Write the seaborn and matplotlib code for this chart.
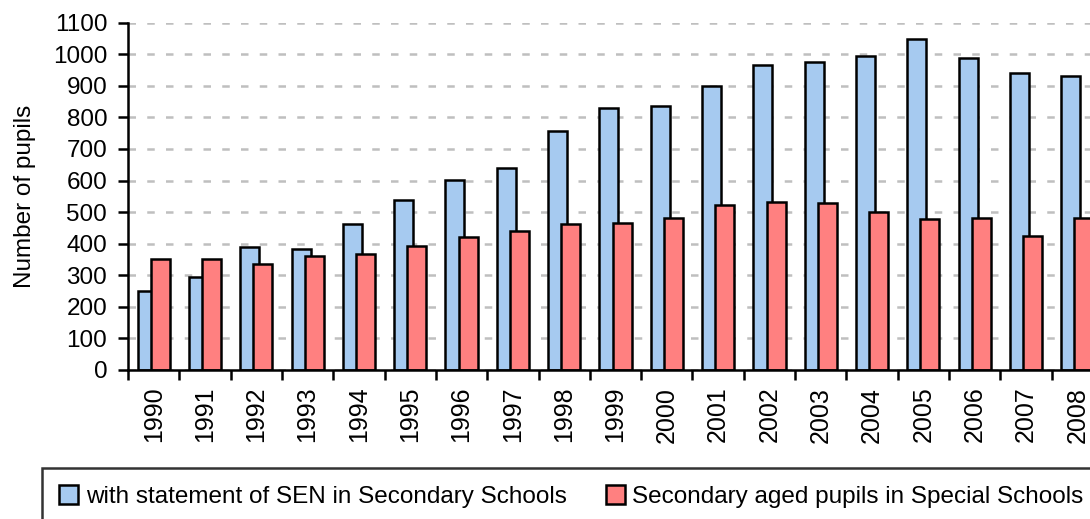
import numpy as np
import pandas as pd
import matplotlib.pyplot as plt
import seaborn as sns
from matplotlib.patches import Patch

# values
years = ["1990", "1991", "1992", "1993", "1994", "1995", "1996", "1997", "1998", "1999",
         "2000", "2001", "2002", "2003", "2004", "2005", "2006", "2007", "2008"]
sen_secondary = [250, 293, 391, 383, 464, 537, 601, 641, 756, 829,
                 837, 900, 966, 977, 993, 1048, 987, 942, 931]
special_schools = [352, 352, 337, 361, 367, 392, 421, 439, 461, 467,
                   481, 522, 533, 529, 500, 478, 483, 426, 481]
series_names = ["with statement of SEN in Secondary Schools",
                "Secondary aged pupils in Special Schools"]
colors = ["#A6CAF0", "#FF8080"]

df = pd.DataFrame({
    "year": years * 2,
    "pupils": sen_secondary + special_schools,
    "series": [series_names[0]] * len(years) + [series_names[1]] * len(years),
})

sns.set_style("ticks")
plt.rcParams["font.family"] = ["Liberation Sans", "DejaVu Sans"]
plt.rcParams.update({
    "text.color": "black",
    "axes.labelcolor": "black",
    "xtick.color": "black",
    "ytick.color": "black",
})

W, H = 1090, 519
fig = plt.figure(figsize=(W / 100, H / 100), dpi=100)
# axes runs past the right edge, as in the cropped original
ax = fig.add_axes([128 / W, (H - 370) / H, 975 / W, (370 - 22.7) / H])

sns.barplot(data=df, x="year", y="pupils", hue="series", hue_order=series_names,
            palette=colors, saturation=1, width=0.74, edgecolor="black",
            linewidth=1.8, errorbar=None, legend=False, ax=ax)

# Excel style overlap: pull the two bars of each year together
shift = 0.057
for bar in ax.containers[0]:
    bar.set_x(bar.get_x() + shift)
for bar in ax.containers[1]:
    bar.set_x(bar.get_x() - shift)

ax.set_xlim(-0.5, len(years) - 0.5)
ax.set_ylim(0, 1100)
ax.set_yticks(np.arange(0, 1101, 100))
ax.set_axisbelow(True)
ax.yaxis.grid(True, color="#BFBFBF", linestyle=(0, (3, 4.5)), linewidth=1.8)
ax.xaxis.grid(False)

for side in ["top", "right"]:
    ax.spines[side].set_visible(False)
for side in ["left", "bottom"]:
    ax.spines[side].set_linewidth(1.8)
    ax.spines[side].set_color("black")

ax.set_xticks(np.arange(len(years) + 1) - 0.5, minor=True)
ax.tick_params(axis="x", which="major", length=0, pad=12, labelsize=18, labelrotation=90)
ax.tick_params(axis="x", which="minor", length=7, width=1.8, color="black", direction="out")
ax.tick_params(axis="y", length=7, width=1.8, color="black", pad=8, labelsize=17.5)

ax.set_xlabel("")
ax.set_ylabel("Number of pupils", fontsize=17.5, labelpad=12)

handles = [Patch(facecolor=c, edgecolor="black", linewidth=1.8, label=n)
           for c, n in zip(colors, series_names)]
leg = fig.legend(handles=handles, loc="upper left", bbox_to_anchor=(42 / W, 1 - 468 / H),
                 ncol=2, frameon=True, fancybox=False, edgecolor="black", fontsize=17.5,
                 handlelength=0.8, handleheight=0.8, handletextpad=0.3,
                 columnspacing=1.6, borderpad=0.7, borderaxespad=0)
leg.get_frame().set_linewidth(1.8)
for t in leg.get_texts():
    t.set_color("black")

fig.savefig("out.png", dpi=100)
